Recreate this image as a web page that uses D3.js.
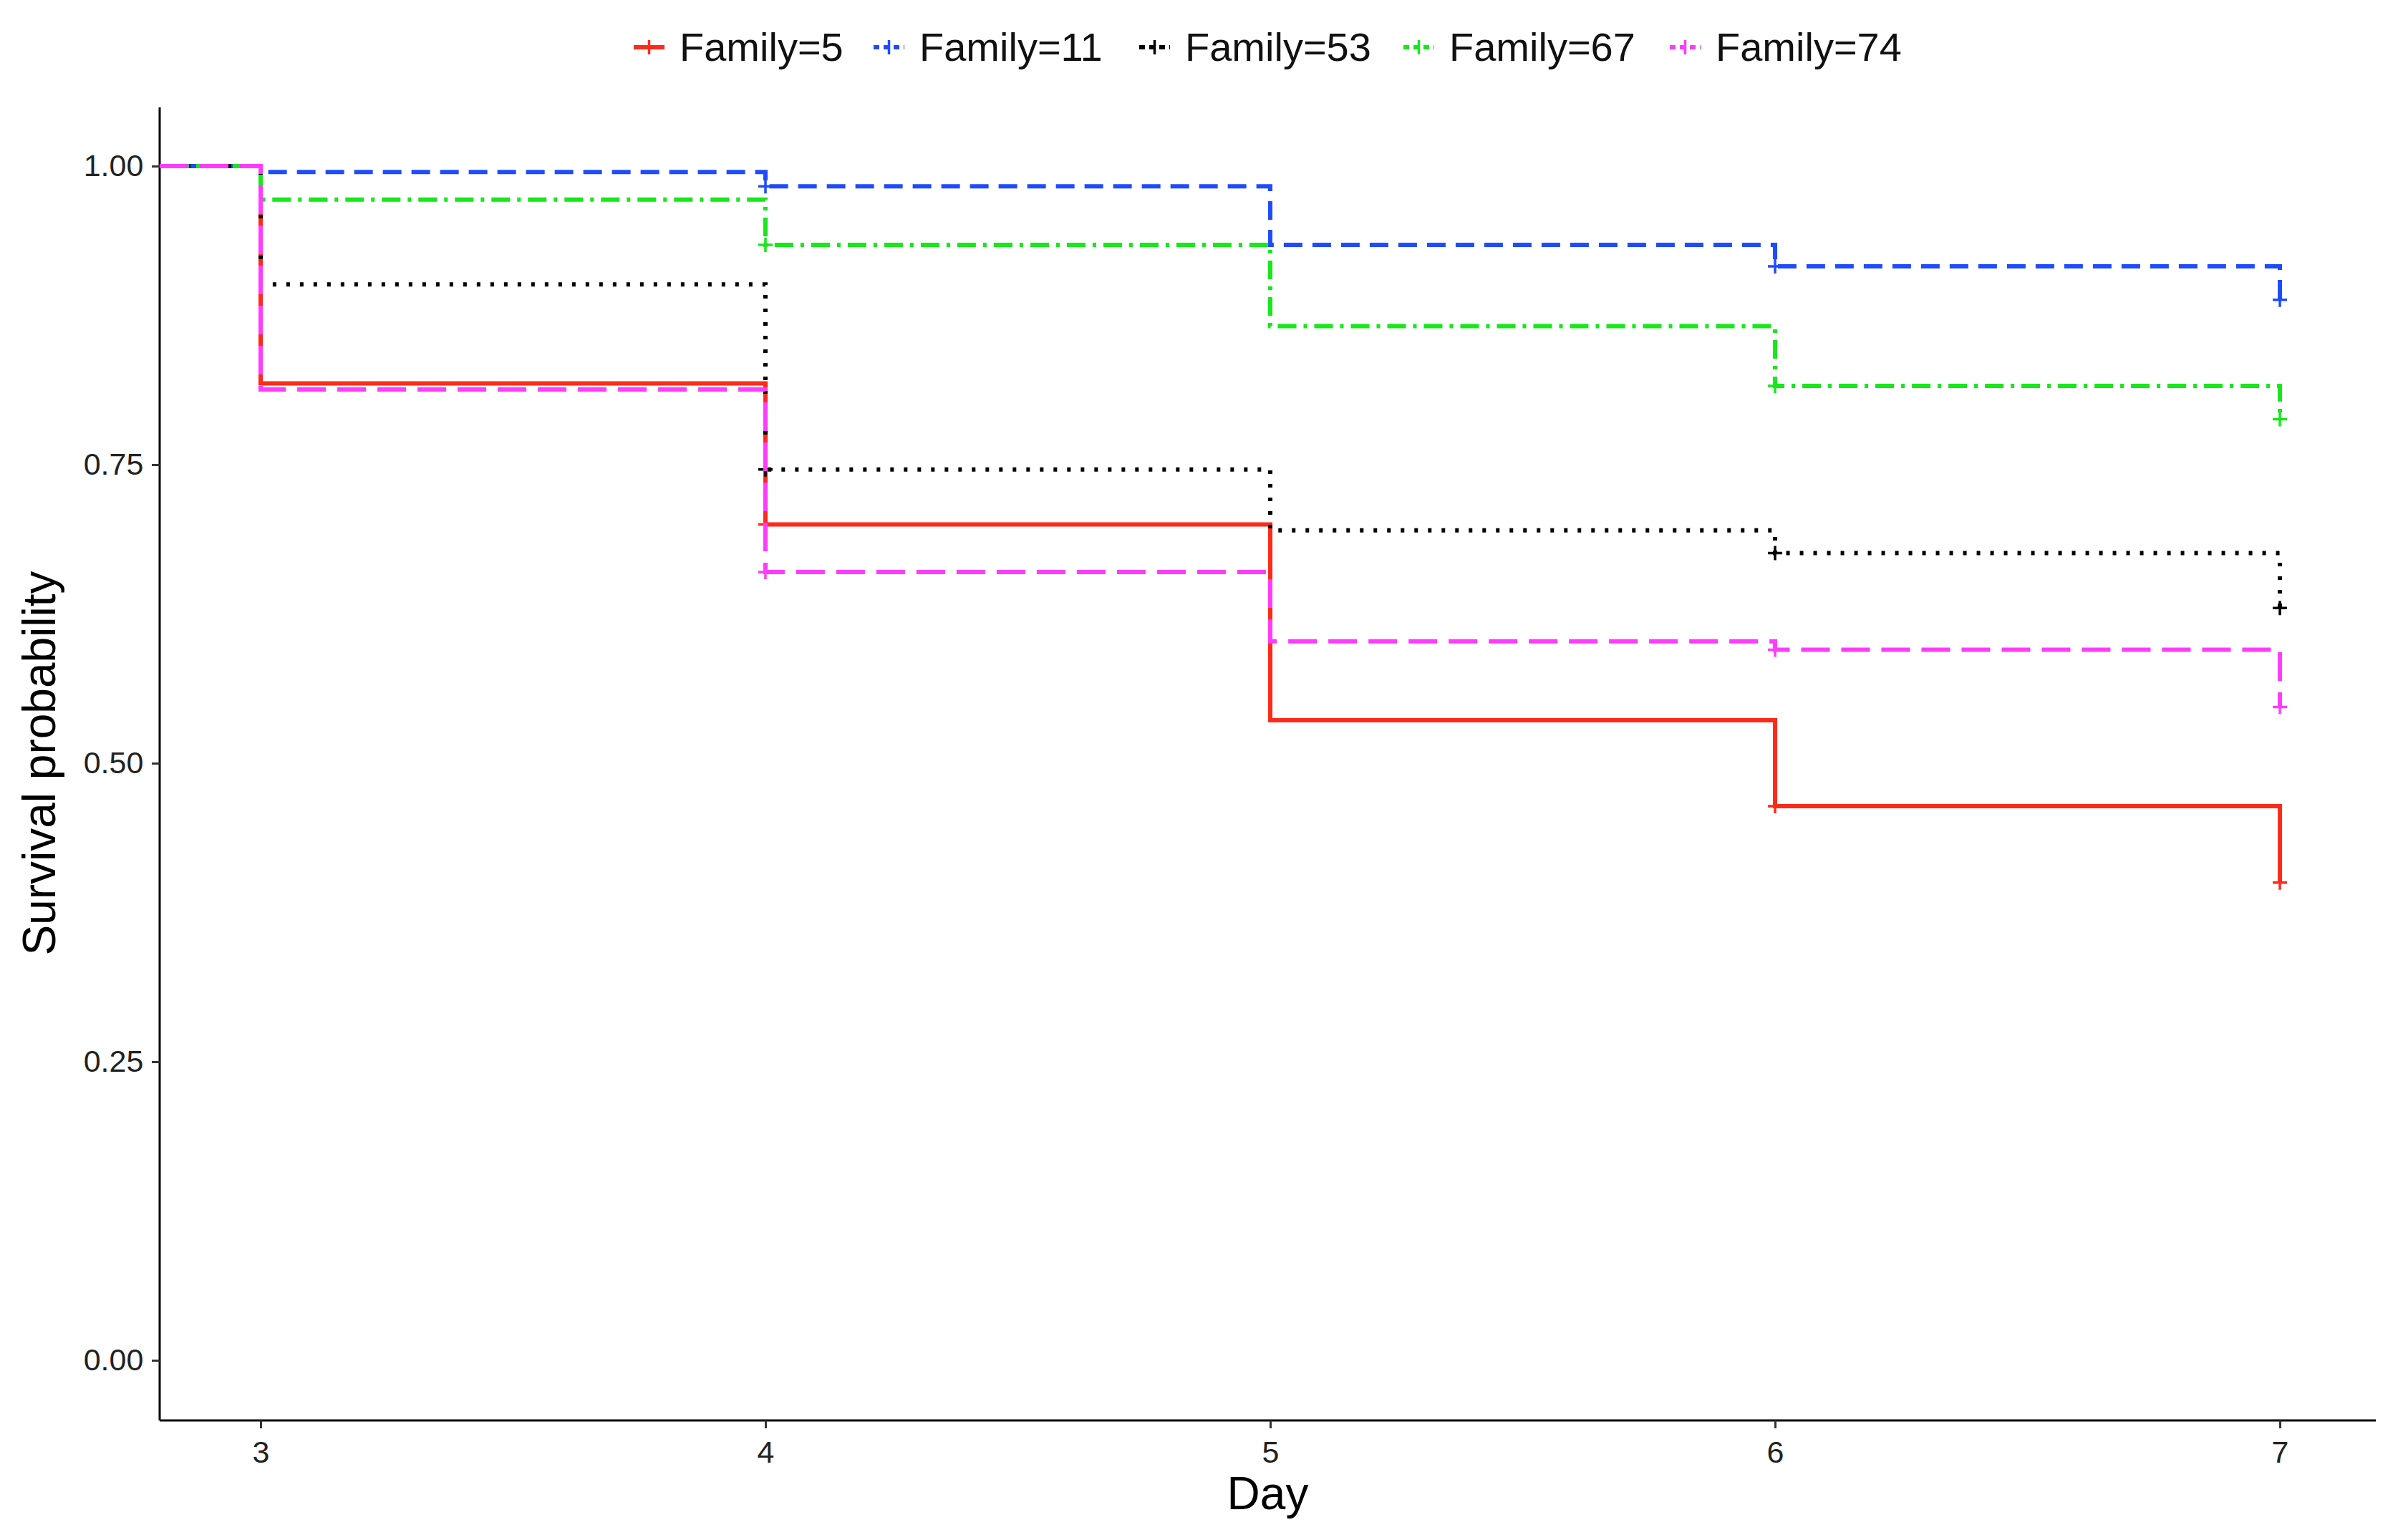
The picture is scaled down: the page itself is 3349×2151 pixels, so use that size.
<!DOCTYPE html>
<html><head><meta charset="utf-8">
<script src="https://cdn.jsdelivr.net/npm/d3@7"></script>
<style>body{margin:0;background:#fff}text{font-family:"Liberation Sans",Arial,sans-serif}</style>
</head><body>
<svg id="chart" width="3349" height="2151"></svg>
<script>
// Kaplan-Meier step values at each day (start value 1 before day 3)
var days = [2.8, 3, 4, 5, 6, 7];
var families = ["Family=5", "Family=11", "Family=53", "Family=67", "Family=74"];
var colors = ["#ff2a1a", "#1f4bff", "#000000", "#16e81a", "#ff3cff"];
var dashes = ["none", "26,14", "5,14", "26,10,5,10", "40,16"];
var surv5 = [1, 0.818, 0.700, 0.536, 0.464, 0.400];
var surv11 = [1, 0.995, 0.983, 0.934, 0.916, 0.888];
var surv53 = [1, 0.901, 0.746, 0.695, 0.676, 0.630];
var surv67 = [1, 0.972, 0.934, 0.866, 0.816, 0.788];
var surv74 = [1, 0.813, 0.660, 0.602, 0.595, 0.547];
var allSurv = [surv5, surv11, surv53, surv67, surv74];
// censor marks: day index -> value
var censorDays = [4, 6, 7];
var xTicks = [3, 4, 5, 6, 7];
var yTicks = [0, 0.25, 0.5, 0.75, 1];

var svg = d3.select("#chart");
var m = {l: 223, r: 3318, t: 150, b: 1984};
var x = d3.scaleLinear().domain([2.8, 7.19]).range([m.l, m.r]);
var y = d3.scaleLinear().domain([-0.05, 1]).range([1984, 232]);
// recompute y so that 0 -> 1900, 1 -> 232
y = d3.scaleLinear().domain([0, 1]).range([1900, 232]);

// axes
var xAxis = svg.append("g").attr("transform", "translate(0," + m.b + ")")
  .call(d3.axisBottom(x).tickValues(xTicks).tickFormat(d3.format("d")).tickSize(11).tickSizeOuter(0));
var yAxis = svg.append("g").attr("transform", "translate(" + m.l + ",0)")
  .call(d3.axisLeft(y).tickValues(yTicks).tickFormat(d3.format(".2f")).tickSize(11).tickSizeOuter(0));
[xAxis, yAxis].forEach(function(a) {
  a.select(".domain").attr("stroke", "#000").attr("stroke-width", 3);
  a.selectAll(".tick line").attr("stroke", "#333").attr("stroke-width", 3);
  a.selectAll(".tick text").attr("font-size", 43).attr("fill", "#222");
});
xAxis.select(".domain").attr("d", "M" + m.l + ",0H" + m.r);
yAxis.select(".domain").attr("d", "M0,150V" + m.b);
xAxis.selectAll(".tick text").attr("dy", "1.05em");
yAxis.selectAll(".tick text").attr("dx", "-0.2em");

svg.append("text").attr("x", (m.l + m.r) / 2).attr("y", 2108).attr("text-anchor", "middle")
  .attr("font-size", 64).text("Day");
svg.append("text").attr("transform", "translate(77," + (232 + 1900) / 2 + ") rotate(-90)")
  .attr("text-anchor", "middle").attr("font-size", 64).text("Survival probability");

// curves
var line = d3.line().x(function(d) { return x(d[0]); }).y(function(d) { return y(d[1]); }).curve(d3.curveStepAfter);
allSurv.forEach(function(s, i) {
  var pts = days.map(function(d, j) { return [d, s[j]]; });
  // final vertical drop at day 7
  svg.append("path").datum(pts).attr("d", line).attr("fill", "none")
    .attr("stroke", colors[i]).attr("stroke-width", 6)
    .attr("stroke-dasharray", dashes[i]);
  censorDays.forEach(function(cd) {
    var v = s[days.indexOf(cd)];
    svg.append("path").attr("transform", "translate(" + x(cd) + "," + y(v) + ")")
      .attr("d", "M-10,0H10M0,-10V10").attr("stroke", colors[i]).attr("stroke-width", 3.5);
  });
});

// legend
var legX = [885, 1220, 1591, 1960, 2332];
families.forEach(function(f, i) {
  var g = svg.append("g").attr("transform", "translate(" + legX[i] + ",66)");
  g.append("line").attr("x1", 0).attr("x2", 43).attr("stroke", colors[i]).attr("stroke-width", 6)
    .attr("stroke-dasharray", dashes[i] === "none" ? "none" : "8,6");
  g.append("path").attr("d", "M21.5,-10V10").attr("stroke", colors[i]).attr("stroke-width", 3.5);
  g.append("text").attr("x", 64).attr("y", 19).attr("font-size", 56).attr("fill", "#111").text(f);
});
</script>
</body></html>
